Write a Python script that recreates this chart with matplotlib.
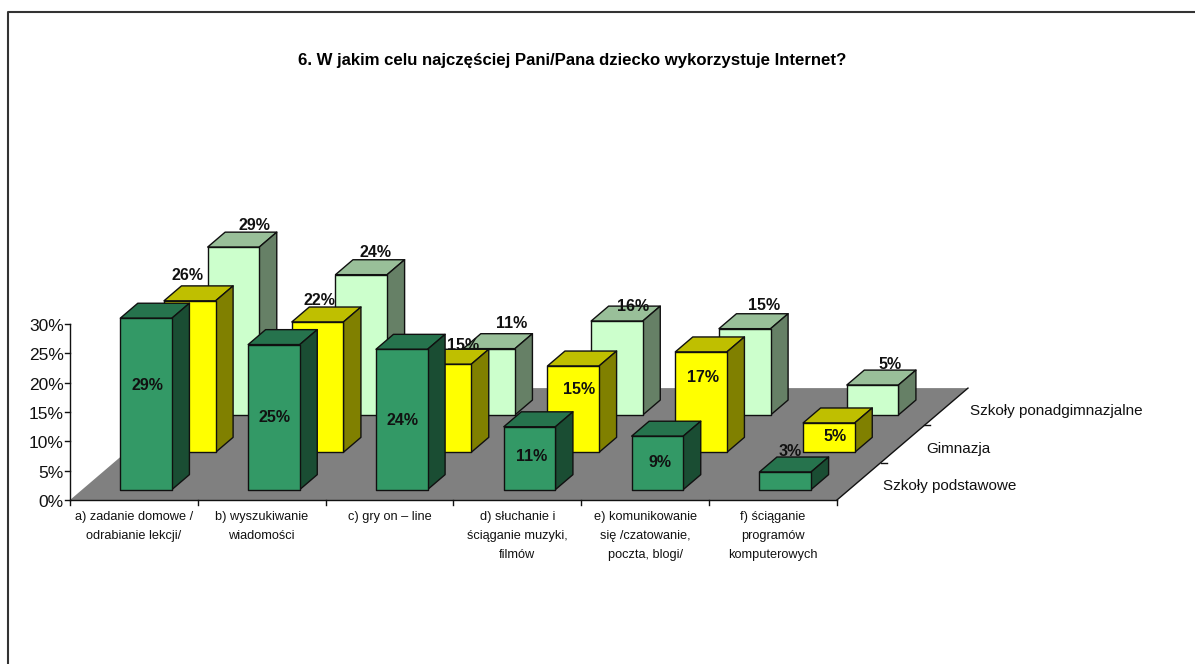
import matplotlib
matplotlib.use('Agg')
import matplotlib.pyplot as plt
from matplotlib.patches import Polygon

# ---data--- #
title = '6. W jakim celu najczęściej Pani/Pana dziecko wykorzystuje Internet?'
categories = ['a) zadanie domowe /\nodrabianie lekcji/',
              'b) wyszukiwanie\nwiadomości',
              'c) gry on – line',
              'd) słuchanie i\nściąganie muzyki,\nfilmów',
              'e) komunikowanie\nsię /czatowanie,\npoczta, blogi/',
              'f) ściąganie\nprogramów\nkomputerowych']
rows = ['Szkoły podstawowe', 'Gimnazja', 'Szkoły ponadgimnazjalne']
podstawowe = [29.2, 24.7, 23.9, 10.7, 9.1, 3.0]
gimnazja = [25.8, 22.2, 15.0, 14.7, 17.1, 5.0]
ponadgim = [28.6, 23.9, 11.3, 16.0, 14.7, 5.1]
yticks = [0, 5, 10, 15, 20, 25, 30]

# label shift from the bar front top, px
shift_pod = [(1, 67), (1, 73), (1, 71), (2, 30), (3, 26), (5, -20)]
shift_gim = [(-2, -25), (2, -21), (18, -19), (6, 24), (2, 26), (6, 14)]
shift_pon = [(21, -22), (14, -22), (22, -25), (16, -15), (19, -23), (17, -21)]

# front, top, side
colors_pod = ['#339966', '#26734D', '#1A4D33']
colors_gim = ['#FFFF00', '#BFBF00', '#808000']
colors_pon = ['#CCFFCC', '#99BF99', '#668066']

series = [(podstawowe, shift_pod, colors_pod),
          (gimnazja, shift_gim, colors_gim),
          (ponadgim, shift_pon, colors_pon)]

plt.rcParams['font.family'] = ['Liberation Sans', 'DejaVu Sans']


# ---oblique projection: category, row, percent -> pixels--- #
def proj(c, r, z):
    return 70 + 127.83 * c + 43.67 * r, 500 - 5.87 * z - 37.3 * r


def face(ax, pts, color, zorder):
    ax.add_patch(Polygon(pts, closed=True, fc=color, ec='#101010', lw=1.0,
                         joinstyle='round', zorder=zorder))


def bar3d(ax, c, r, val, cols, zorder):
    x0, x1 = c + 0.298, c + 0.702
    r0, r1 = r + 0.28, r + 0.68
    face(ax, [proj(x0, r0, val), proj(x1, r0, val), proj(x1, r1, val), proj(x0, r1, val)], cols[1], zorder)
    face(ax, [proj(x1, r0, 0), proj(x1, r1, 0), proj(x1, r1, val), proj(x1, r0, val)], cols[2], zorder)
    face(ax, [proj(x0, r0, 0), proj(x1, r0, 0), proj(x1, r0, val), proj(x0, r0, val)], cols[0], zorder)


fig = plt.figure(figsize=(11.95, 6.64), dpi=100)
ax = fig.add_axes([0, 0, 1, 1])
ax.set_xlim(0, 1195)
ax.set_ylim(664, 0)
ax.axis('off')

# outer frame
ax.plot([8, 8, 1195], [664, 11.5, 11.5], color='#333333', lw=1.5, zorder=1)

ax.text(572.5, 60, title, ha='center', va='center', fontsize=12.1, fontweight='bold')

# floor
n_cat = len(categories)
n_row = len(rows)
ax.add_patch(Polygon([proj(0, 0, 0), proj(n_cat, 0, 0), proj(n_cat, n_row, 0), proj(0, n_row, 0)],
                     closed=True, fc='#808080', ec='none', zorder=2))

# axes lines
axis_col = '#111111'
x, y = proj(0, 0, 0)
ax.plot([x, x], [y, proj(0, 0, yticks[-1])[1]], color=axis_col, lw=1.0, zorder=3)
for t in yticks:
    tx, ty = proj(0, 0, t)
    ax.plot([tx - 5, tx], [ty, ty], color=axis_col, lw=1.0, zorder=3)
    ax.text(tx - 6, ty + 2.5, '%d%%' % t, ha='right', va='center', fontsize=12.5, color='#111111')

ax.plot([proj(0, 0, 0)[0], proj(n_cat, 0, 0)[0]], [y, y], color=axis_col, lw=1.0, zorder=3)
for i in range(n_cat + 1):
    tx, ty = proj(i, 0, 0)
    ax.plot([tx, tx], [ty, ty + 5], color=axis_col, lw=1.0, zorder=3)
for i, lab in enumerate(categories):
    tx, ty = proj(i + 0.5, 0, 0)
    ax.text(tx, ty + 11, lab, ha='center', va='top', fontsize=9.2, linespacing=1.8, color='#111111')

p0 = proj(n_cat, 0, 0)
p1 = proj(n_cat, n_row, 0)
ax.plot([p0[0], p1[0]], [p0[1], p1[1]], color=axis_col, lw=1.0, zorder=3)
for i in range(1, n_row):
    tx, ty = proj(n_cat, i, 0)
    ax.plot([tx, tx + 6], [ty, ty], color=axis_col, lw=1.0, zorder=3)
for i, lab in enumerate(rows):
    tx, ty = proj(n_cat, i + 0.5, 0)
    ax.text(tx + 24, ty + 4.5, lab, ha='left', va='center', fontsize=11, color='#111111')

# bars, back row first
z = 4
for r in range(n_row - 1, -1, -1):
    vals, shifts, cols = series[r]
    for c in range(n_cat):
        bar3d(ax, c, r, vals[c], cols, z)
        tx, ty = proj(c + 0.5, r + 0.28, vals[c])
        ax.text(tx + shifts[c][0], ty + shifts[c][1], '%d%%' % round(vals[c]), ha='center', va='center',
                fontsize=11.5, fontweight='bold', color='#111111', zorder=z)
        z += 1

plt.savefig('out.png', dpi=100)
